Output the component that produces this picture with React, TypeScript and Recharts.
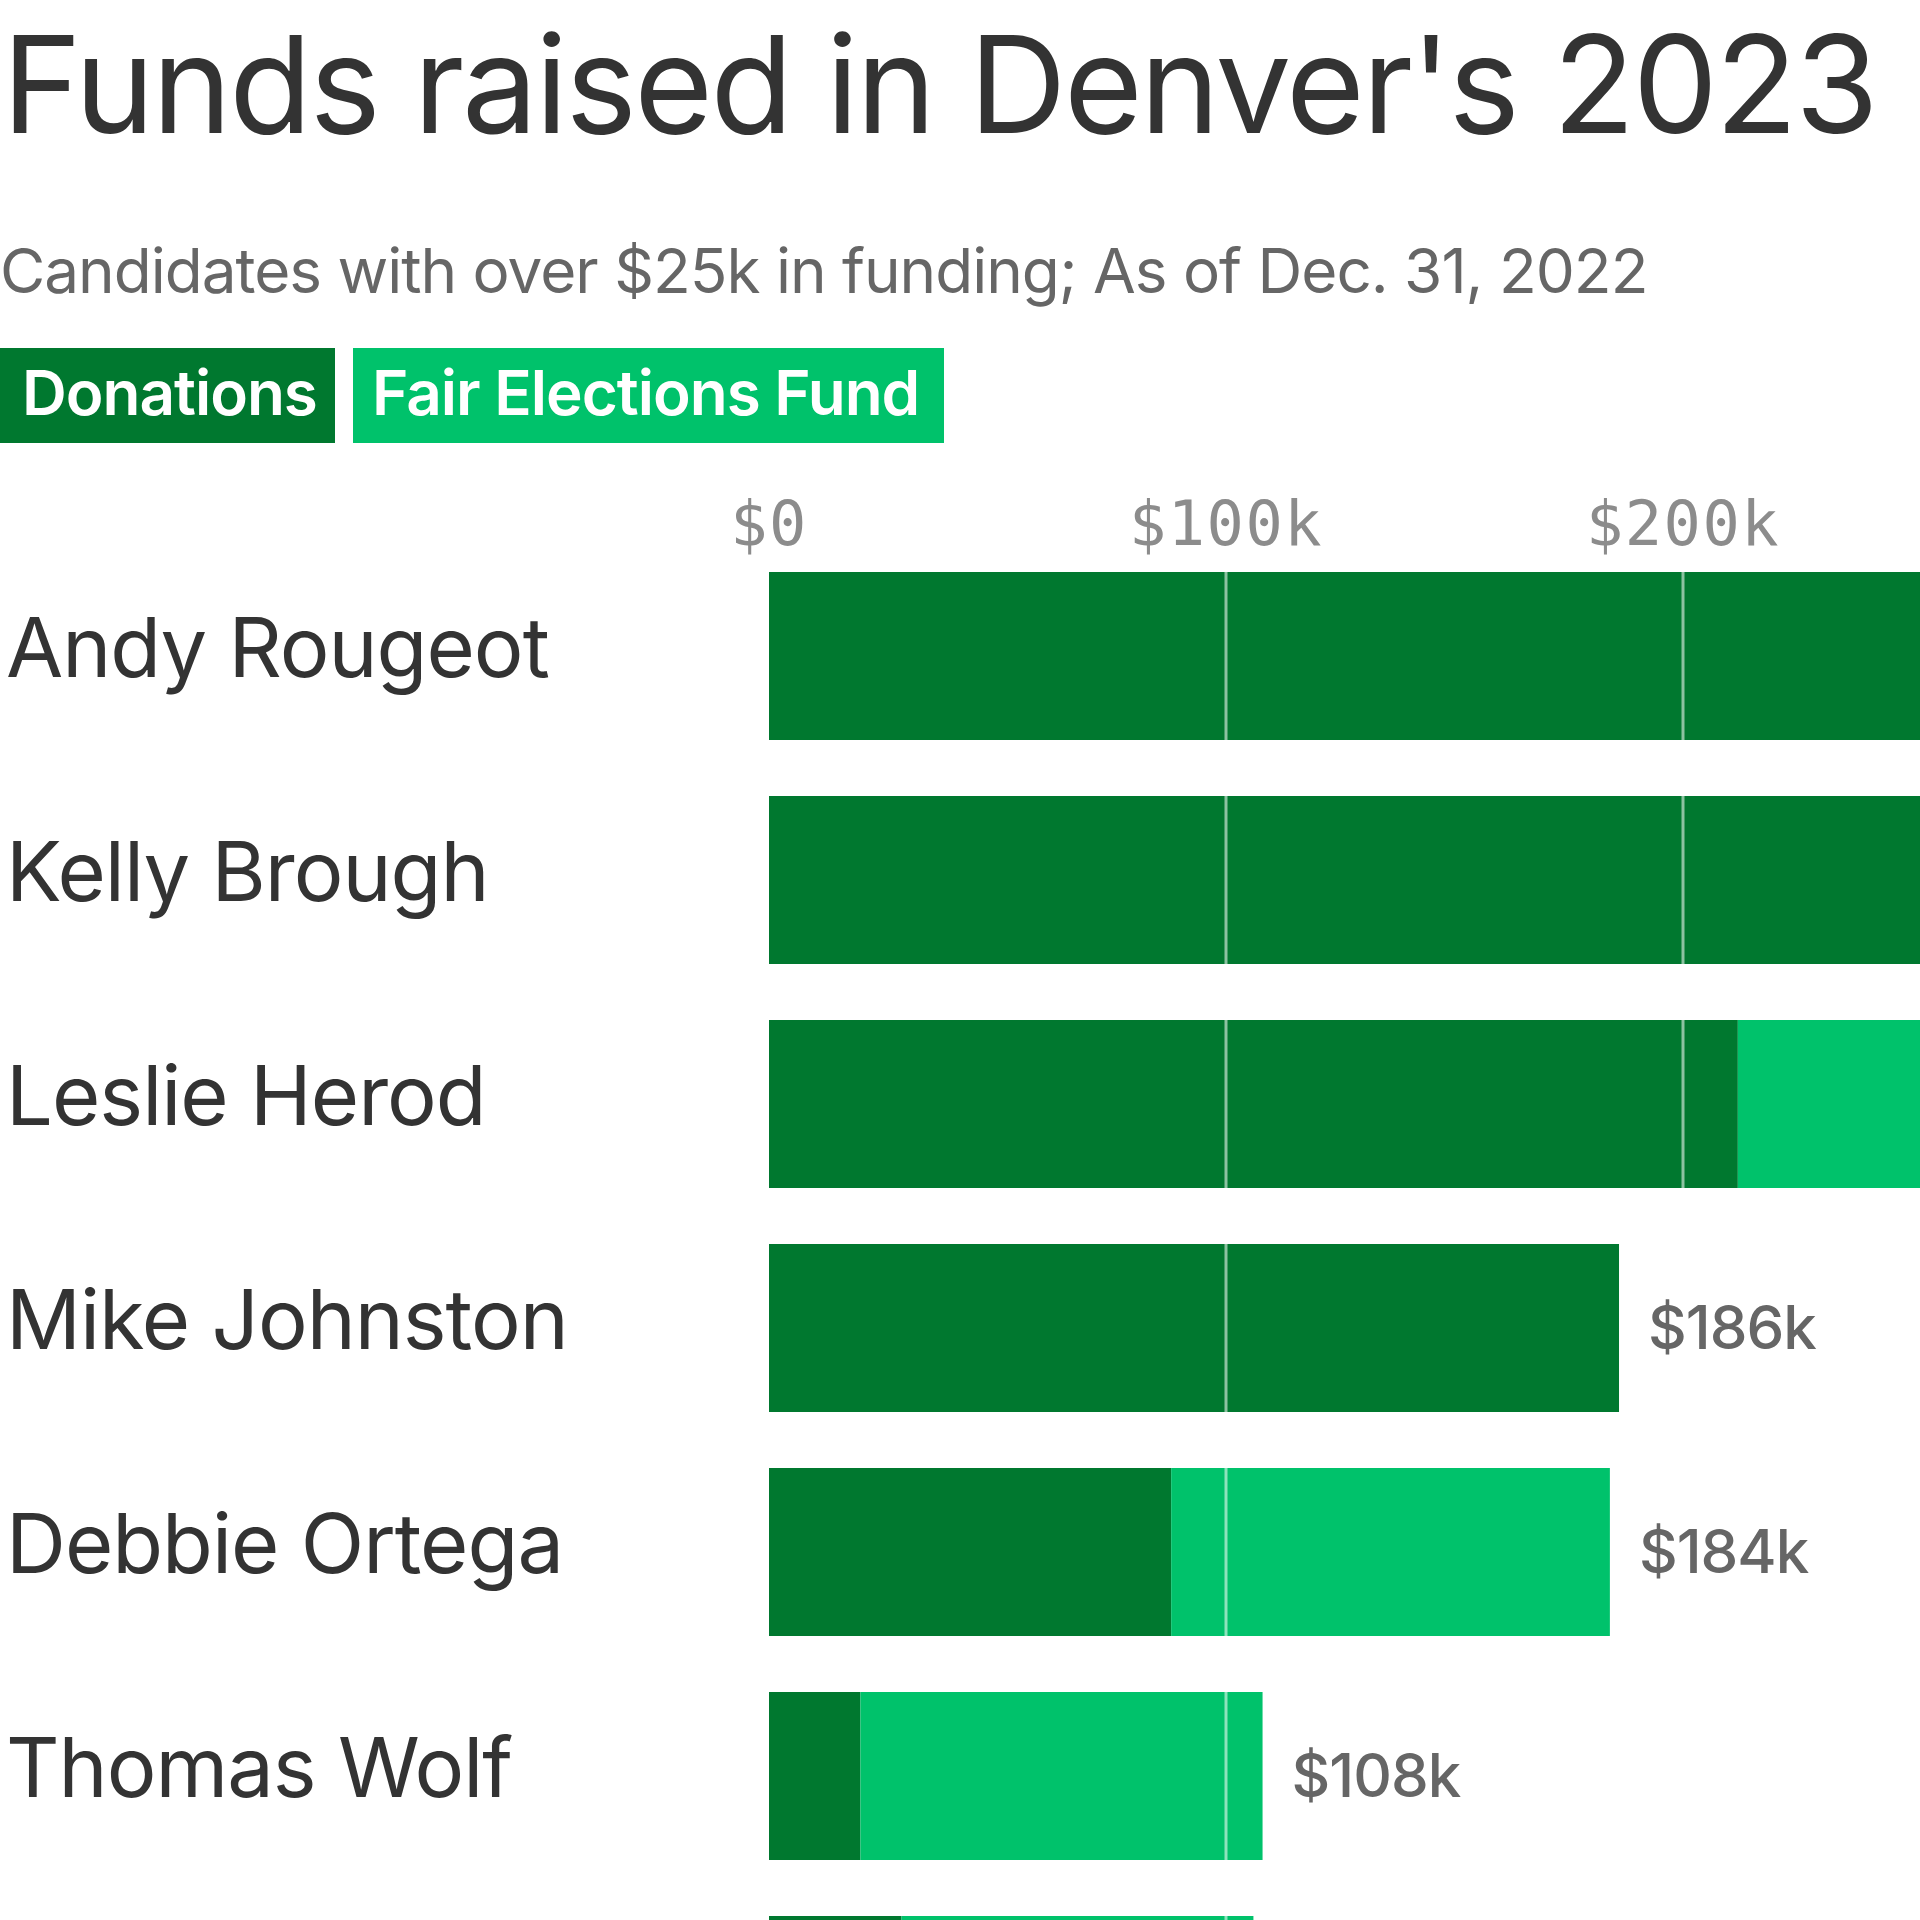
import { BarChart, Bar, XAxis, YAxis, ReferenceLine, LabelList } from 'recharts';

const candidates = [
  'Andy Rougeot',
  'Kelly Brough',
  'Leslie Herod',
  'Mike Johnston',
  'Debbie Ortega',
  'Thomas Wolf',
  'Lisa Calderón',
];
// thousands of dollars
const donations = [540, 470, 212, 186, 88, 20, 29];
const fairElections = [0, 0, 160, 0, 96, 88, 77];
const xTicks = [0, 100, 200, 300, 400, 500, 600];

const DARK = '#00782f';
const LIGHT = '#00c26b';
const SANS = 'Inter, "Noto Sans", sans-serif';

const rows = candidates.map((name, i) => ({
  name,
  donations: donations[i],
  fair: fairElections[i],
  total: donations[i] + fairElections[i],
}));

const PLOT_TOP = 544;

function CandidateTick(props: any) {
  const { y, payload } = props;
  return (
    <text x={6} y={y + 21} fontFamily={SANS} fontSize={83} letterSpacing={-1} fill="#333" textAnchor="start">
      {payload.value}
    </text>
  );
}

function MoneyTick(props: any) {
  const { x, payload } = props;
  return (
    <text
      x={x}
      y={545}
      fontFamily='"DejaVu Sans Mono", monospace'
      fontSize={62}
      letterSpacing={1.5}
      fill="#8c8c8c"
      textAnchor="middle"
    >
      {payload.value === 0 ? '$0' : `$${payload.value}k`}
    </text>
  );
}

// sits on the donations bar; the stack end is found from the bar's own scale
function TotalLabel(props: any) {
  const { x, y, width, height, value } = props;
  const r = rows.find(d => d.name === value);
  if (!r) return null;
  const end = x + (width * r.total) / r.donations;
  return (
    <text
      x={end + 29}
      y={y + height / 2 + 21}
      fontFamily={SANS}
      fontSize={60}
      fontWeight={500}
      letterSpacing={-1}
      fill="#666"
    >
      {`$${r.total}k`}
    </text>
  );
}

export default function App() {
  return (
    <div style={{ position: 'absolute', left: 0, top: 0, width: 3800, height: 2200, background: '#fff' }}>
      <svg width={3800} height={470} style={{ position: 'absolute', left: 0, top: 0 }}>
        <text x={2} y={133} fontFamily={SANS} fontSize={135} letterSpacing={-2.5} fill="#333">
          Funds raised in Denver's 2023 mayoral race
        </text>
        <text x={0} y={293} fontFamily={SANS} fontSize={62} letterSpacing={-1} fill="#666">
          Candidates with over $25k in funding; As of Dec. 31, 2022
        </text>
        <rect x={0} y={348} width={335} height={95} fill={DARK} />
        <text x={22} y={415} fontFamily={SANS} fontSize={62} fontWeight={600} letterSpacing={-1} fill="#fff">
          Donations
        </text>
        <rect x={353} y={348} width={591} height={95} fill={LIGHT} />
        <text x={372} y={415} fontFamily={SANS} fontSize={62} fontWeight={600} letterSpacing={-1} fill="#fff">
          Fair Elections Fund
        </text>
      </svg>
      <div style={{ position: 'absolute', left: 0, top: 0 }}>
        <BarChart
          width={3711}
          height={2132}
          data={rows}
          layout="vertical"
          margin={{ top: PLOT_TOP - 80, right: 200, left: 0, bottom: 20 }}
        >
          <XAxis
            type="number"
            orientation="top"
            domain={[0, 600]}
            ticks={xTicks}
            height={80}
            axisLine={false}
            tickLine={false}
            tick={MoneyTick}
          />
          <YAxis
            type="category"
            dataKey="name"
            width={769}
            axisLine={false}
            tickLine={false}
            tick={CandidateTick}
          />
          <Bar dataKey="donations" stackId="a" fill={DARK} barSize={168} isAnimationActive={false}>
            <LabelList dataKey="name" content={TotalLabel} />
          </Bar>
          <Bar dataKey="fair" stackId="a" fill={LIGHT} barSize={168} isAnimationActive={false} />
          {xTicks.slice(1).map(t => (
            <ReferenceLine key={t} x={t} stroke="#fff" strokeOpacity={0.55} strokeWidth={3} />
          ))}
        </BarChart>
      </div>
    </div>
  );
}
